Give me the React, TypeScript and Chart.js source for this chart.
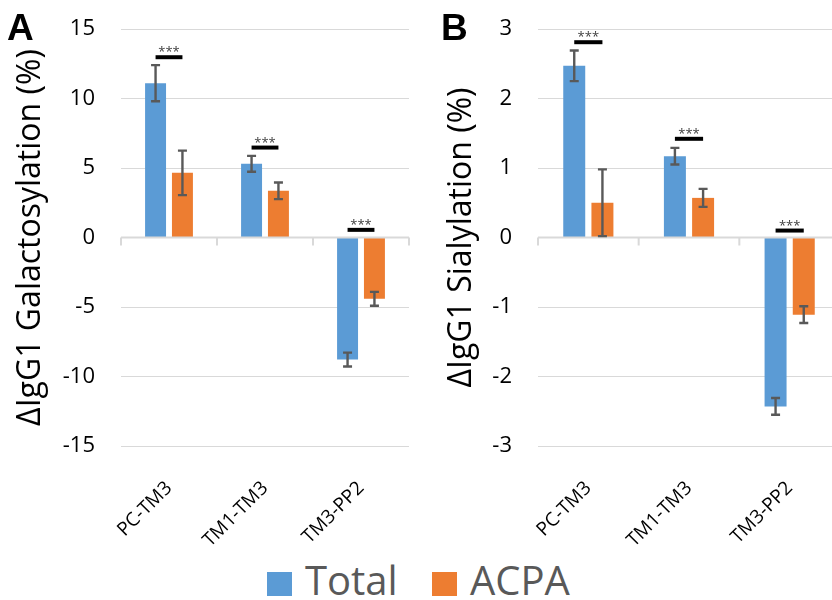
import React, { useEffect, useRef } from 'react';
import { Chart, registerables } from 'chart.js';

Chart.register(...registerables);

// ---------- data ----------
const categories = ['PC-TM3', 'TM1-TM3', 'TM3-PP2'];
const seriesNames = ['Total', 'ACPA'];
const seriesColors = ['#5B9BD5', '#ED7D31'];

// Panel A: ΔIgG1 Galactosylation (%)
const galTotal = [11.1, 5.3, -8.78];
const galTotalErr = [1.3, 0.57, 0.5];
const galAcpa = [4.65, 3.36, -4.41];
const galAcpaErr = [1.6, 0.6, 0.5];
const galSigLevel = [12.97, 6.47, 0.55];
const galTicks = { min: -15, max: 15, step: 5 };

// Panel B: ΔIgG1 Sialylation (%)
const sialTotal = [2.47, 1.17, -2.43];
const sialTotalErr = [0.22, 0.12, 0.12];
const sialAcpa = [0.5, 0.57, -1.11];
const sialAcpaErr = [0.48, 0.13, 0.12];
const sialSigLevel = [2.81, 1.42, 0.1];
const sialTicks = { min: -3, max: 3, step: 1 };

const sigLabels = ['***', '***', '***'];

// ---------- plugin for error bars, axis line and significance bars ----------
const annotPlugin = {
  id: 'annot',
  afterDatasetsDraw(chart: any, _args: any, opts: any) {
    const { ctx, chartArea } = chart;
    const y = chart.scales.y;
    ctx.save();
    // zero axis line with category boundary ticks
    const y0 = y.getPixelForValue(0);
    ctx.strokeStyle = '#d9d9d9';
    ctx.lineWidth = 2;
    ctx.beginPath();
    ctx.moveTo(chartArea.left, y0);
    ctx.lineTo(chartArea.right, y0);
    const n = chart.data.labels.length;
    const w = (chartArea.right - chartArea.left) / n;
    for (let i = 0; i <= n; i++) {
      const bx = chartArea.left + i * w;
      ctx.moveTo(bx, y0);
      ctx.lineTo(bx, y0 + 8);
    }
    ctx.stroke();

    // error bars
    const errs: number[][] = opts.errors || [];
    ctx.strokeStyle = '#595959';
    ctx.lineWidth = 2.4;
    chart.data.datasets.forEach((ds: any, di: number) => {
      const meta = chart.getDatasetMeta(di);
      meta.data.forEach((bar: any, i: number) => {
        const v = ds.data[i];
        const e = errs[di] ? errs[di][i] : 0;
        const yt = y.getPixelForValue(v + e);
        const yb = y.getPixelForValue(v - e);
        const cx = bar.x;
        ctx.beginPath();
        ctx.moveTo(cx, yt);
        ctx.lineTo(cx, yb);
        ctx.moveTo(cx - 4.5, yt);
        ctx.lineTo(cx + 4.5, yt);
        ctx.moveTo(cx - 4.5, yb);
        ctx.lineTo(cx + 4.5, yb);
        ctx.stroke();
      });
    });

    // significance bars
    const sig: number[] = opts.sig || [];
    const m0 = chart.getDatasetMeta(0);
    const m1 = chart.getDatasetMeta(1);
    sig.forEach((lvl, i) => {
      const x0 = m0.data[i].x;
      const x1 = m1.data[i].x;
      const py = y.getPixelForValue(lvl);
      ctx.strokeStyle = '#000';
      ctx.lineWidth = 4;
      ctx.beginPath();
      ctx.moveTo(x0, py);
      ctx.lineTo(x1, py);
      ctx.stroke();
      ctx.fillStyle = '#404040';
      ctx.font = '13px "Open Sans"';
      ctx.textAlign = 'center';
      ctx.textBaseline = 'alphabetic';
      ctx.fillText(sigLabels[i], (x0 + x1) / 2, py - 1);
    });
    ctx.restore();
  },
};

function makeConfig(
  total: number[],
  acpa: number[],
  errs: number[][],
  sig: number[],
  ticks: { min: number; max: number; step: number },
  title: string,
  yWidth: number,
  padRight: number,
  titlePad: number
): any {
  return {
    type: 'bar',
    data: {
      labels: categories,
      datasets: [
        {
          label: seriesNames[0],
          data: total,
          backgroundColor: seriesColors[0],
          categoryPercentage: 0.56,
          barPercentage: 0.78,
        },
        {
          label: seriesNames[1],
          data: acpa,
          backgroundColor: seriesColors[1],
          categoryPercentage: 0.56,
          barPercentage: 0.78,
        },
      ],
    },
    options: {
      responsive: false,
      animation: false,
      layout: { padding: { left: 0, right: padRight, top: 29, bottom: 0 } },
      plugins: {
        legend: { display: false },
        tooltip: { enabled: false },
        annot: { errors: errs, sig },
      },
      scales: {
        x: {
          grid: { display: false },
          border: { display: false },
          ticks: {
            autoSkip: false,
            minRotation: 45,
            maxRotation: 45,
            padding: 23,
            color: '#000',
            font: { family: 'Open Sans', size: 19 },
          },
          afterFit: (s: any) => {
            s.height = 104;
          },
        },
        y: {
          min: ticks.min,
          max: ticks.max,
          ticks: {
            stepSize: ticks.step,
            padding: 4,
            color: '#000',
            font: { family: 'Open Sans', size: 22 },
          },
          grid: {
            drawTicks: true,
            tickLength: 22,
            tickColor: 'rgba(0,0,0,0)',
            lineWidth: 1,
            color: (c: any) => (c.tick && c.tick.value === 0 ? 'rgba(0,0,0,0)' : '#d9d9d9'),
          },
          border: { display: false },
          title: {
            display: true,
            text: title,
            color: '#000',
            font: { family: 'Open Sans', size: 32, weight: 'normal' },
            padding: { top: titlePad, bottom: 0 },
          },
          afterFit: (s: any) => {
            s.width = yWidth;
          },
        },
      },
    },
    plugins: [annotPlugin],
  };
}

export default function App() {
  const refA = useRef<HTMLCanvasElement>(null);
  const refB = useRef<HTMLCanvasElement>(null);

  useEffect(() => {
    const a = new Chart(
      refA.current as HTMLCanvasElement,
      makeConfig(
        galTotal,
        galAcpa,
        [galTotalErr, galAcpaErr],
        galSigLevel,
        galTicks,
        'ΔIgG1 Galactosylation (%)',
        121,
        11,
        12
      )
    );
    const b = new Chart(
      refB.current as HTMLCanvasElement,
      makeConfig(
        sialTotal,
        sialAcpa,
        [sialTotalErr, sialAcpaErr],
        sialSigLevel,
        sialTicks,
        'ΔIgG1 Sialylation (%)',
        118,
        12,
        23
      )
    );
    return () => {
      a.destroy();
      b.destroy();
    };
  }, []);

  const legendItems = [
    { box: 267, text: 305 },
    { box: 432, text: 470 },
  ];

  return (
    <div
      style={{
        position: 'fixed',
        left: 0,
        top: 0,
        width: 832,
        height: 600,
        overflow: 'hidden',
        background: '#fff',
      }}
    >
      <canvas ref={refA} width={420} height={550} style={{ position: 'absolute', left: 0, top: 0 }} />
      <canvas ref={refB} width={432} height={550} style={{ position: 'absolute', left: 420, top: 0 }} />
      <div
        style={{
          position: 'absolute',
          left: 7,
          top: 8.5,
          font: 'bold 37px "Liberation Sans"',
          lineHeight: '37px',
          color: '#000',
        }}
      >
        A
      </div>
      <div
        style={{
          position: 'absolute',
          left: 441,
          top: 8.5,
          font: 'bold 37px "Liberation Sans"',
          lineHeight: '37px',
          color: '#000',
        }}
      >
        B
      </div>
      {seriesNames.map((name, i) => (
        <React.Fragment key={name}>
          <div
            style={{
              position: 'absolute',
              left: legendItems[i].box,
              top: 572,
              width: 25,
              height: 24,
              background: seriesColors[i],
            }}
          />
          <div
            style={{
              position: 'absolute',
              left: legendItems[i].text,
              top: 560,
              font: '40px "Open Sans"',
              lineHeight: '40px',
              color: '#595959',
              whiteSpace: 'nowrap',
            }}
          >
            {name}
          </div>
        </React.Fragment>
      ))}
    </div>
  );
}
